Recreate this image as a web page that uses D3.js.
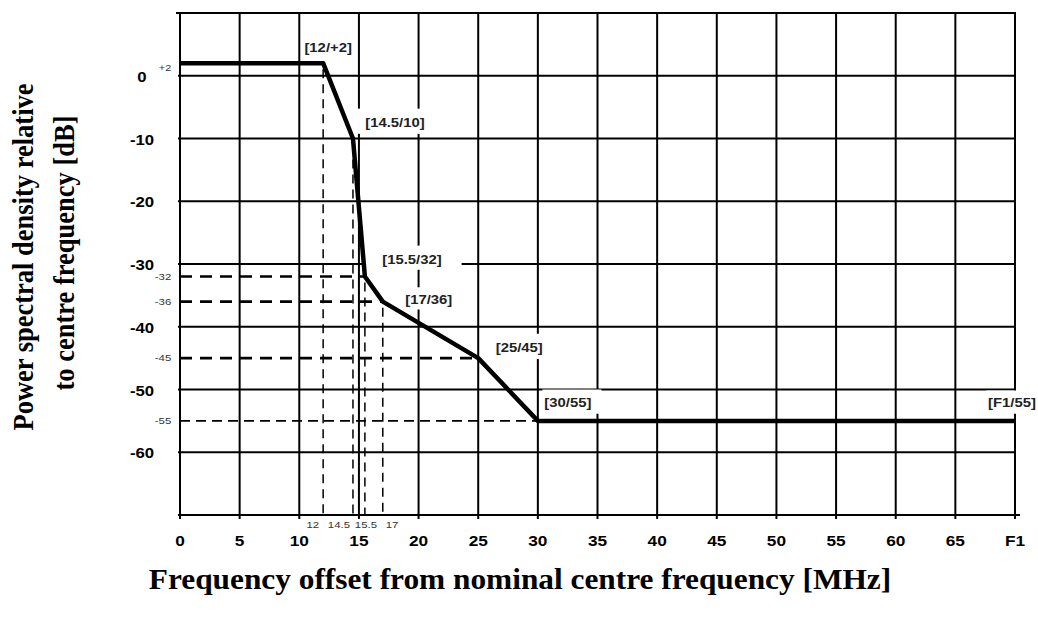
<!DOCTYPE html>
<html><head><meta charset="utf-8">
<script src="https://cdn.jsdelivr.net/npm/d3@7/dist/d3.min.js"></script>
<style>html,body{margin:0;padding:0;background:#fff;} svg{display:block;}</style>
</head><body>
<script>
// ---- data ----
const freqTicks = [0,5,10,15,20,25,30,35,40,45,50,55,60,65,70];
const freqTickLabels = ["0","5","10","15","20","25","30","35","40","45","50","55","60","65","F1"];
const dbGrid = [10,0,-10,-20,-30,-40,-50,-60,-70];
const dbTicks = [0,-10,-20,-30,-40,-50,-60];
const dbTickLabels = ["0","-10","-20","-30","-40","-50","-60"];
const maskFreq = [0,12,14.5,15.5,17,25,30,70];
const maskDb = [2,2,-10,-32,-36,-45,-55,-55];
const cornerLabels = ["[12/+2]","[14.5/10]","[15.5/32]","[17/36]","[25/45]","[30/55]","[F1/55]"];
const dropFreqs = [12,14.5,15.5,17];
const dropDb = [2,-10,-32,-36];
const dropLabels = ["12","14.5","15.5","17"];
const levelDb = [-32,-36,-45,-55];
const levelEndFreq = [15.5,17,25,70];
const levelLabels = ["-32","-36","-45","-55"];
const topLevelLabel = "+2";
const xTitle = "Frequency offset from nominal centre frequency [MHz]";
const yTitle = ["Power spectral density relative","to centre frequency [dB]"];

// ---- layout / style ----
const W = 1038, H = 619;
const x = d3.scaleLinear().domain([0,70]).range([180,1015]);
const y = d3.scaleLinear().domain([10,-70]).range([13,515]);
const labelOffsets = [[5,-16],[42,-16.5],[47,-17.6],[46,-3],[41,-11],[30,-19],[-3,-19]];
const labelPads = [null,[13,12,6,4],[17,20,6,3],[2,2,4,3],[2,3,6,4],[2,10,5,4],[2,2,4,4]]; // l,r,t,b
const dropAnchor = [["end",-4],["end",-3],["middle",1],["start",3]];

const svg = d3.select("body").append("svg").attr("width",W).attr("height",H);
svg.append("rect").attr("width",W).attr("height",H).attr("fill","#fff");

function txt(g, px, py, s, size, weight, anchor, fill, sx){
  const k = sx || 1.2;
  return g.append("text")
    .attr("transform",`translate(${px},${py}) scale(${k},1)`)
    .attr("text-anchor",anchor||"middle")
    .attr("font-family","'Liberation Sans', Arial, sans-serif")
    .attr("font-size",size).attr("font-weight",weight||"normal")
    .attr("fill",fill||"#000").text(s);
}

// grid
const grid = svg.append("g").attr("stroke","#000").attr("stroke-width",2);
grid.selectAll("line.v").data(freqTicks).join("line")
  .attr("x1",d=>x(d)).attr("x2",d=>x(d))
  .attr("y1",y(10)+1).attr("y2",y(-70)+4);
grid.selectAll("line.h").data(dbGrid).join("line")
  .attr("x1",d=>d===10? x(0)-4 : x(0)-2).attr("x2",d=>x(70)+(d===-70?5:1))
  .attr("y1",d=>y(d)).attr("y2",d=>y(d));

// y tick labels
const yl = svg.append("g");
dbTicks.forEach((v,i)=>{
  txt(yl, 142, y(v)+6, dbTickLabels[i], 15.5, "bold", "middle", "#000", 1.08);
});
txt(yl, 165, y(0)-5, topLevelLabel, 9, "normal", "middle", "#333");
levelDb.forEach((v,i)=>{
  txt(yl, 163, y(v)+3, levelLabels[i], 9.5, "normal", "middle", "#333");
});

// x tick labels
const xl = svg.append("g");
freqTicks.forEach((v,i)=>{
  txt(xl, x(v), 546, freqTickLabels[i], 15, "bold", "middle", "#000", 1.15);
});
dropFreqs.forEach((v,i)=>{
  txt(xl, x(v)+dropAnchor[i][1], 528, dropLabels[i], 9.5, "normal", dropAnchor[i][0], "#333");
});

// corner labels (measure first, then white boxes)
const lblG = svg.append("g");
const boxG = svg.insert("g", () => lblG.node());
d3.range(1, maskFreq.length).forEach((k,i)=>{
  const px = x(maskFreq[k]) + labelOffsets[i][0];
  const py = y(maskDb[k]) + labelOffsets[i][1];
  const t = txt(lblG, px, py+5, cornerLabels[i], 13.5, "bold", "middle", "#222", 1.1);
  const p = labelPads[i];
  if(p){
    const bb = t.node().getBBox();
    const w = bb.width*1.1;
    boxG.append("rect").attr("fill","#fff")
      .attr("x", px - w/2 - p[0]).attr("width", w + p[0] + p[1])
      .attr("y", py + 5 + bb.y - p[2]).attr("height", bb.height + p[2] + p[3]);
  }
});

// dashed drop lines
const dash = svg.append("g").attr("fill","none").attr("stroke","#000");
dropFreqs.forEach((v,i)=>{
  dash.append("line").attr("x1",x(v)).attr("x2",x(v))
    .attr("y1",y(dropDb[i])+6).attr("y2",y(-70))
    .attr("stroke-width",1.5).attr("stroke-dasharray","9,6");
});
levelDb.forEach((v,i)=>{
  const thin = v === -55;
  dash.append("line").attr("x1",x(0)).attr("x2",x(levelEndFreq[i]))
    .attr("y1",y(v)).attr("y2",y(v))
    .attr("stroke-width",thin?1.6:2.6).attr("stroke-dasharray",thin?"10,6":"12,8");
});

// mask curve
const line = d3.line().x(d=>x(d[0])).y(d=>y(d[1]));
svg.append("path").datum(maskFreq.map((f,i)=>[f,maskDb[i]]))
  .attr("d",line).attr("fill","none").attr("stroke","#000")
  .attr("stroke-width",4.5).attr("stroke-linejoin","round");
svg.node().appendChild(lblG.node());

// axis titles
const serif = "'Liberation Serif','Times New Roman',serif";
svg.append("text")
  .attr("transform",`translate(520,589) scale(1.1,1)`)
  .attr("text-anchor","middle").attr("font-family",serif)
  .attr("font-size",28.5).attr("font-weight","bold").text(xTitle);
[[33,257],[74,253]].forEach((p,i)=>{
  svg.append("text")
    .attr("transform",`translate(${p[0]},${p[1]}) scale(1.15,1) rotate(-90)`)
    .attr("text-anchor","middle").attr("font-family",serif)
    .attr("font-size",26.5).attr("font-weight","bold").text(yTitle[i]);
});
</script>
</body></html>
